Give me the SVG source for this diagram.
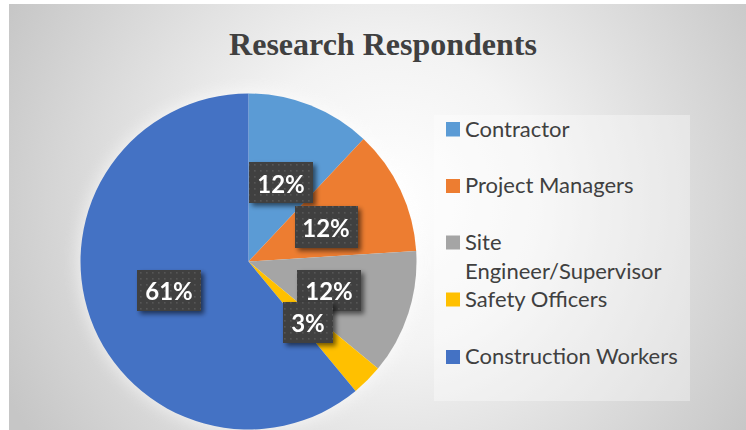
<svg xmlns="http://www.w3.org/2000/svg" width="746" height="430" viewBox="0 0 746 430">
  <defs>
    <radialGradient id="bg" gradientUnits="userSpaceOnUse" cx="390" cy="200" r="430">
      <stop offset="0" stop-color="#ffffff"/>
      <stop offset="0.35" stop-color="#f3f3f3"/>
      <stop offset="1" stop-color="#c6c6c6"/>
    </radialGradient>
    <pattern id="dots" width="6" height="6" patternUnits="userSpaceOnUse">
      <rect width="6" height="6" fill="#404040"/>
      <rect x="2" y="2" width="1.6" height="1.6" fill="#565656"/>
    </pattern>
    <filter id="shadow" x="-20%" y="-20%" width="150%" height="160%">
      <feGaussianBlur in="SourceAlpha" stdDeviation="2.5"/>
      <feOffset dx="3" dy="3" result="b"/>
      <feComponentTransfer><feFuncA type="linear" slope="0.55"/></feComponentTransfer>
      <feMerge><feMergeNode/><feMergeNode in="SourceGraphic"/></feMerge>
    </filter>
    <filter id="glow" x="-20%" y="-20%" width="140%" height="140%">
      <feGaussianBlur stdDeviation="8"/>
    </filter>
  </defs>
  <style>
    .title { font-family: "Liberation Serif", "Times New Roman", serif; font-weight: bold; font-size: 32px; fill: #404040; }
    .leg { font-family: Lato, "Open Sans", "Liberation Sans", sans-serif; font-size: 22px; fill: #404040; }
    .lbl { font-family: Lato, "Open Sans", "Liberation Sans", sans-serif; font-weight: bold; font-size: 24px; fill: #ffffff; text-anchor: middle; }
    .box { fill: url(#dots); }
  </style>

  <rect x="9" y="4" width="737" height="426" fill="url(#bg)"/>

  <text id="title" class="title" x="383" y="55" text-anchor="middle">Research Respondents</text>

  <g id="pie">
    <circle cx="248.5" cy="261.5" r="170" fill="#ffffff" opacity="0.6" filter="url(#glow)"/>
    <g id="slice-contractor"><path d="M248.5,261.5 L248.5,93.5 A168,168 0 0 1 363.5,139.03 Z" fill="#5B9BD5"/></g>
    <g id="slice-pm"><path d="M248.5,261.5 L363.5,139.03 A168,168 0 0 1 416.17,250.95 Z" fill="#ED7D31"/></g>
    <g id="slice-se"><path d="M248.5,261.5 L416.17,250.95 A168,168 0 0 1 377.95,368.59 Z" fill="#A5A5A5"/></g>
    <g id="slice-safety"><path d="M248.5,261.5 L377.95,368.59 A168,168 0 0 1 355.59,390.95 Z" fill="#FFC000"/></g>
    <g id="slice-cw"><path d="M248.5,261.5 L355.59,390.95 A168,168 0 1 1 248.5,93.5 Z" fill="#4472C4"/></g>
  </g>

  <g id="labels">
    <g id="label-contractor" filter="url(#shadow)">
      <rect class="box" x="249" y="162" width="64" height="41"/>
      <text class="lbl" x="281" y="193">12%</text>
    </g>
    <g id="label-pm" filter="url(#shadow)">
      <rect class="box" x="295" y="206" width="63" height="42"/>
      <text class="lbl" x="326" y="236.5">12%</text>
    </g>
    <g id="label-se" filter="url(#shadow)">
      <rect class="box" x="297" y="270" width="64" height="41"/>
      <text class="lbl" x="329" y="299.5">12%</text>
    </g>
    <g id="label-safety" filter="url(#shadow)">
      <rect class="box" x="283" y="302" width="50" height="41"/>
      <text class="lbl" x="308" y="332">3%</text>
    </g>
    <g id="label-cw" filter="url(#shadow)">
      <rect class="box" x="137" y="270" width="64" height="41"/>
      <text class="lbl" x="169" y="299.5">61%</text>
    </g>
  </g>

  <g id="legend">
    <rect x="434" y="115" width="256" height="286" fill="#ffffff" opacity="0.35"/>
    <g id="leg-contractor">
      <rect x="446" y="122" width="14" height="14.5" fill="#5B9BD5"/>
      <text class="leg" x="465" y="136.5">Contractor</text>
    </g>
    <g id="leg-pm">
      <rect x="446" y="179" width="14" height="14" fill="#ED7D31"/>
      <text class="leg" x="465" y="193">Project Managers</text>
    </g>
    <g id="leg-se">
      <rect x="446" y="235.5" width="14" height="14" fill="#A5A5A5"/>
      <text class="leg" x="465" y="249.5">Site</text>
      <text class="leg" x="465" y="278.5">Engineer/Supervisor</text>
    </g>
    <g id="leg-safety">
      <rect x="446" y="292.5" width="14" height="14" fill="#FFC000"/>
      <text class="leg" x="465" y="306.5">Safety Officers</text>
    </g>
    <g id="leg-cw">
      <rect x="446" y="350" width="14" height="14" fill="#4472C4"/>
      <text class="leg" x="465" y="364">Construction Workers</text>
    </g>
  </g>
</svg>
